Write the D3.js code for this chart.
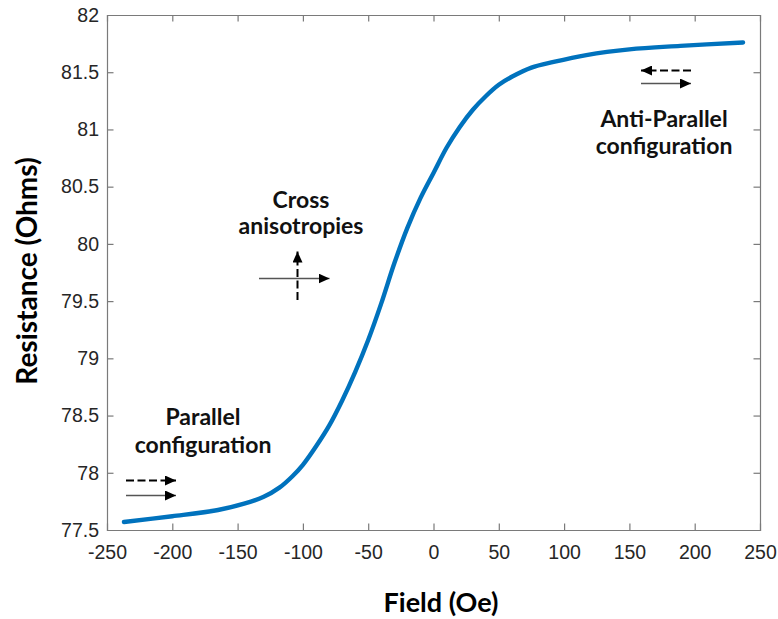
<!DOCTYPE html>
<html>
<head>
<meta charset="utf-8">
<script src="https://cdn.jsdelivr.net/npm/d3@7"></script>
<style>
  body { margin: 0; background: #fff; }
  text { user-select: none; }
</style>
</head>
<body>
<svg id="chart" width="778" height="619"></svg>
<script>
// field (Oe) and resistance (Ohms)
const fieldOe = [-237, -200, -165, -145, -130, -118, -108, -100, -90, -80, -70, -60, -50, -40, -30, -20, -10, 0, 10, 20, 30, 40, 50, 60, 75, 92, 117, 150, 189, 237];
const resistance = [77.57, 77.62, 77.675, 77.73, 77.79, 77.87, 77.97, 78.07, 78.23, 78.41, 78.63, 78.88, 79.16, 79.48, 79.83, 80.14, 80.40, 80.62, 80.84, 81.02, 81.17, 81.29, 81.39, 81.46, 81.54, 81.59, 81.65, 81.70, 81.73, 81.76];

const xTicks = [-250, -200, -150, -100, -50, 0, 50, 100, 150, 200, 250];
const yTicks = [77.5, 78, 78.5, 79, 79.5, 80, 80.5, 81, 81.5, 82];

const labelFont = 'Lato, "Open Sans", sans-serif';
const tickFont = '"Liberation Sans", Arial, sans-serif';

const box = {left: 107, top: 15, width: 653, height: 515};

const svg = d3.select('#chart');

const xScale = d3.scaleLinear()
  .domain([-250, 250])
  .range([box.left, box.left + box.width]);

const yScale = d3.scaleLinear()
  .domain([77.5, 82])
  .range([box.top + box.height, box.top]);

const data = fieldOe.map((h, i) => ({h, r: resistance[i]}));

// arrow head markers
const defs = svg.append('defs');
defs.append('marker')
  .attr('id', 'head')
  .attr('viewBox', '0 0 11 10')
  .attr('refX', 11)
  .attr('refY', 5)
  .attr('markerWidth', 11)
  .attr('markerHeight', 10)
  .attr('markerUnits', 'userSpaceOnUse')
  .attr('orient', 'auto')
  .append('path')
  .attr('d', 'M0,0 L11,5 L0,10 Z')
  .style('fill', '#000');

// the curve
const line = d3.line()
  .x(d => xScale(d.h))
  .y(d => yScale(d.r))
  .curve(d3.curveCatmullRom.alpha(0.5));

svg.append('path')
  .datum(data)
  .attr('d', line)
  .style('fill', 'none')
  .style('stroke', '#0072BD')
  .style('stroke-width', 4.4)
  .style('stroke-linejoin', 'round')
  .style('stroke-linecap', 'round');

// axes, MATLAB style: ticks inside on all four sides
const axisColor = '#7a7a7a';

const xAxis = svg.append('g')
  .attr('transform', `translate(0,${box.top + box.height})`)
  .call(d3.axisBottom(xScale).tickValues(xTicks).tickSize(-6.5).tickPadding(15).tickFormat(d => String(d)));

const xTop = svg.append('g')
  .attr('transform', `translate(0,${box.top})`)
  .call(d3.axisTop(xScale).tickValues(xTicks).tickSize(-6.5).tickFormat(''));

const yAxis = svg.append('g')
  .attr('transform', `translate(${box.left},0)`)
  .call(d3.axisLeft(yScale).tickValues(yTicks).tickSize(-6.5).tickPadding(8).tickFormat(d => String(d)));

const yRight = svg.append('g')
  .attr('transform', `translate(${box.left + box.width},0)`)
  .call(d3.axisRight(yScale).tickValues(yTicks).tickSize(-6.5).tickFormat(''));

[xAxis, xTop, yAxis, yRight].forEach(a => {
  a.select('.domain').style('stroke', axisColor).style('stroke-width', 1.2);
  a.selectAll('.tick line').style('stroke', axisColor).style('stroke-width', 1.2);
  a.selectAll('.tick text')
    .style('font-family', tickFont)
    .style('font-size', '19.5px')
    .style('fill', '#262626');
});
// end ticks sit on the box corners
xAxis.selectAll('.tick line').filter(d => d === -250 || d === 250).remove();
xTop.selectAll('.tick line').filter(d => d === -250 || d === 250).remove();
yAxis.selectAll('.tick line').filter(d => d === 77.5 || d === 82).remove();
yRight.selectAll('.tick line').filter(d => d === 77.5 || d === 82).remove();

// axis titles
svg.append('text')
  .attr('x', 441)
  .attr('y', 612)
  .text('Field (Oe)')
  .style('text-anchor', 'middle')
  .style('font-family', labelFont)
  .style('font-weight', 'bold')
  .style('font-size', '27px')
  .style('fill', '#000');

svg.append('text')
  .attr('transform', 'translate(37,271) rotate(-90)')
  .text('Resistance (Ohms)')
  .style('text-anchor', 'middle')
  .style('font-family', labelFont)
  .style('font-weight', 'bold')
  .style('font-size', '28px')
  .style('fill', '#000');

// annotations
const notes = [
  {x: 301, y: 208, lines: ['Cross', 'anisotropies'], dy: 26},
  {x: 203, y: 425, lines: ['Parallel', 'configuration'], dy: 28},
  {x: 664, y: 127, lines: ['Anti-Parallel', 'configuration'], dy: 27}
];

notes.forEach(n => {
  const t = svg.append('text')
    .attr('x', n.x)
    .attr('y', n.y)
    .style('text-anchor', 'middle')
    .style('font-family', labelFont)
    .style('font-weight', 'bold')
    .style('font-size', '23px')
    .style('fill', '#111');
  n.lines.forEach((s, i) => {
    t.append('tspan')
      .attr('x', n.x)
      .attr('dy', i === 0 ? 0 : n.dy)
      .text(s);
  });
});

// magnetisation arrows: [x1, y1, x2, y2, dashed]
const arrows = [
  [126, 480.5, 176, 480.5, true],
  [126, 495.5, 176, 495.5, false],
  [691, 70.5, 641, 70.5, true],
  [641, 83.5, 691, 83.5, false],
  [297.5, 300, 297.5, 251.5, true],
  [259, 278.5, 329.5, 278.5, false]
];

svg.selectAll('.arrow')
  .data(arrows)
  .enter()
  .append('line')
  .attr('class', 'arrow')
  .attr('x1', d => d[0])
  .attr('y1', d => d[1])
  .attr('x2', d => d[2])
  .attr('y2', d => d[3])
  .attr('marker-end', 'url(#head)')
  .style('stroke', d => d[4] ? '#000' : '#555')
  .style('stroke-width', d => d[4] ? 2 : 1.6)
  .style('stroke-dasharray', d => d[4] ? '8,3.5' : null);
</script>
</body>
</html>
